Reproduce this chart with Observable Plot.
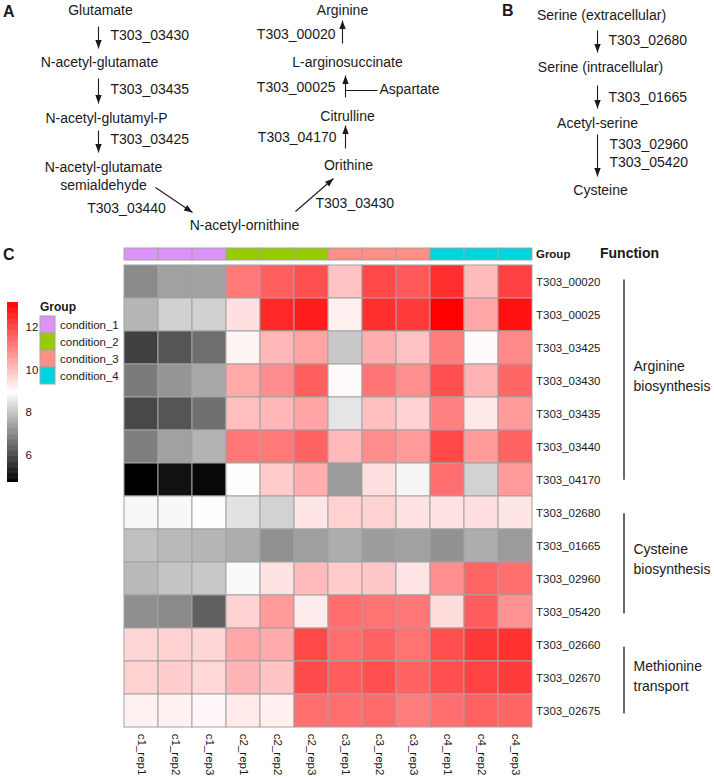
<!DOCTYPE html>
<html>
<head>
<meta charset="utf-8">
<script src="https://cdn.jsdelivr.net/npm/d3@7"></script>
<script src="https://cdn.jsdelivr.net/npm/@observablehq/plot@0.6"></script>
<style>
  body { margin: 0; background: #fff; font-family: "Liberation Sans", Arial, Helvetica, sans-serif; }
  #fig { position: relative; width: 714px; height: 783px; overflow: hidden; background: #fff; }
  #fig svg { overflow: visible; }
</style>
</head>
<body>
<div id="fig"></div>
<script>
// ---------------- DATA ----------------
// Panel A: arginine biosynthesis pathway (metabolites in order, enzymes for each step)
const argMetabolites = ["Glutamate", "N-acetyl-glutamate", "N-acetyl-glutamyl-P",
  "N-acetyl-glutamate\nsemialdehyde", "N-acetyl-ornithine", "Orithine", "Citrulline",
  "L-arginosuccinate", "Arginine"];
const argEnzymes = ["T303_03430", "T303_03435", "T303_03425", "T303_03440",
  "T303_03430", "T303_04170", "T303_00025", "T303_00020"];
const argCosubstrate = "Aspartate"; // joins the T303_00025 step

// Panel B: cysteine biosynthesis pathway
const cysMetabolites = ["Serine (extracellular)", "Serine (intracellular)", "Acetyl-serine", "Cysteine"];
const cysEnzymes = ["T303_02680", "T303_01665", "T303_02960\nT303_05420"];

// Panel C: heatmap
const samples = ["c1_rep1", "c1_rep2", "c1_rep3", "c2_rep1", "c2_rep2", "c2_rep3",
  "c3_rep1", "c3_rep2", "c3_rep3", "c4_rep1", "c4_rep2", "c4_rep3"];
const groups = ["condition_1", "condition_2", "condition_3", "condition_4"];
const sampleGroup = ["condition_1", "condition_1", "condition_1", "condition_2", "condition_2", "condition_2",
  "condition_3", "condition_3", "condition_3", "condition_4", "condition_4", "condition_4"];
const genes = ["T303_00020", "T303_00025", "T303_03425", "T303_03430", "T303_03435", "T303_03440",
  "T303_04170", "T303_02680", "T303_01665", "T303_02960", "T303_05420", "T303_02660",
  "T303_02670", "T303_02675"];
const geneFunction = ["Arginine\nbiosynthesis", "Arginine\nbiosynthesis", "Arginine\nbiosynthesis",
  "Arginine\nbiosynthesis", "Arginine\nbiosynthesis", "Arginine\nbiosynthesis", "Arginine\nbiosynthesis",
  "Cysteine\nbiosynthesis", "Cysteine\nbiosynthesis", "Cysteine\nbiosynthesis", "Cysteine\nbiosynthesis",
  "Methionine\ntransport", "Methionine\ntransport", "Methionine\ntransport"];
// log2 expression, one row per gene, columns follow `samples`
const expr_T303_00020 = [7.0, 7.37, 7.4, 11.16, 11.6, 11.87, 9.93, 11.97, 11.7, 12.4, 10.07, 12.1];
const expr_T303_00025 = [7.72, 8.17, 8.17, 9.47, 12.5, 12.7, 9.2, 12.4, 12.2, 13.18, 10.4, 12.9];
const expr_T303_03425 = [5.77, 6.12, 6.53, 9.13, 10.13, 10.47, 8.03, 10.27, 9.93, 11.07, 9.03, 10.9];
const expr_T303_03430 = [6.73, 7.18, 7.5, 10.37, 10.83, 11.6, 9.03, 11.25, 10.8, 11.87, 10.2, 11.47];
const expr_T303_03435 = [5.9, 6.12, 6.57, 10.0, 10.13, 10.43, 8.5, 10.0, 9.67, 11.03, 9.33, 10.6];
const expr_T303_03440 = [6.8, 7.37, 7.67, 11.2, 11.16, 11.53, 10.1, 10.83, 10.6, 11.97, 10.6, 11.53];
const expr_T303_04170 = [4.7, 4.98, 4.83, 8.95, 9.8, 10.27, 7.27, 9.47, 8.78, 11.33, 8.2, 10.6];
const expr_T303_02680 = [8.8, 8.83, 8.95, 8.45, 8.2, 9.37, 9.7, 9.67, 9.43, 9.43, 9.47, 9.37];
const expr_T303_01665 = [7.9, 7.8, 7.73, 7.57, 7.1, 7.35, 7.57, 7.3, 7.37, 7.13, 7.57, 7.27];
const expr_T303_02960 = [7.77, 7.97, 8.03, 8.85, 9.4, 10.07, 9.8, 9.87, 9.37, 10.8, 11.5, 11.33];
const expr_T303_05420 = [7.07, 7.0, 6.3, 9.67, 10.6, 9.27, 11.37, 11.27, 11.2, 9.53, 11.63, 10.73];
const expr_T303_02660 = [9.63, 9.7, 9.63, 10.4, 10.33, 11.97, 11.33, 11.53, 11.27, 11.87, 12.24, 12.37];
const expr_T303_02670 = [9.7, 9.77, 9.6, 10.17, 9.9, 11.93, 11.63, 11.87, 11.53, 11.87, 12.07, 12.2];
const expr_T303_02675 = [9.17, 9.17, 9.07, 9.3, 9.2, 11.33, 11.33, 11.4, 11.1, 11.33, 11.57, 11.47];
const legendTicks = [6, 8, 10, 12];
const colorDomain = [4.7, 8.94, 13.18];

// ---------------- STYLE / LAYOUT ----------------
const groupColors = ["#DB92F9", "#99CC00", "#FF8E84", "#00D5DD"];
const heatColors = ["#000000", "#ffffff", "#ff0000"];
const FONT = '"Liberation Sans", Arial, Helvetica, sans-serif';
const INK = "#1a1a1a";
const CELL_STROKE = "#a3a3a3";

// pathway diagram layout (pixel placement of the schematic)
const layoutA = {
  nodes: [[100, 9], [99, 61], [106, 117], [103, 175], [244, 224], [348, 164], [347, 115], [347, 61], [342, 9]],
  edges: [[98, 26, 98, 48], [98, 78, 98, 103], [98, 130, 98, 152], [155, 187, 192, 212],
          [295, 211, 333, 178], [345, 148, 345, 125], [345, 97, 345, 75], [342, 43, 342, 20]],
  labels: [[110, 34, "start"], [110, 88, "start"], [110, 138, "start"], [126, 208, "middle"],
           [315, 202, "start"], [336, 137, "end"], [335, 87, "end"], [335, 34, "end"]],
  cosubstrate: {line: [345, 90, 377, 90], text: [379, 89]}
};
const layoutB = {
  nodes: [[601, 14], [600, 66], [597, 122], [600, 189]],
  edges: [[597, 30, 597, 52], [597, 85, 597, 108], [597, 134, 597, 176]],
  labels: [[608, 39, "start"], [608, 96, "start"], [609, 152, "start"]]
};

const fig = document.getElementById("fig");
function place(node, left, top) {
  node.style.position = "absolute";
  node.style.left = left + "px";
  node.style.top = top + "px";
  fig.appendChild(node);
}
function label(text, x, y, size, weight) {
  const d = document.createElement("div");
  d.textContent = text;
  d.style.cssText = `position:absolute;white-space:nowrap;font-family:${FONT};font-size:${size}px;` +
    `line-height:${size}px;font-weight:${weight};color:${INK};left:${x}px;top:${y - size / 2}px;`;
  fig.appendChild(d);
}
const baseStyle = {fontFamily: FONT, background: "transparent", color: INK, overflow: "visible"};

// ---------------- PANELS A & B ----------------
const nodes = [
  ...argMetabolites.map((name, i) => ({name, x: layoutA.nodes[i][0], y: layoutA.nodes[i][1]})),
  ...cysMetabolites.map((name, i) => ({name, x: layoutB.nodes[i][0], y: layoutB.nodes[i][1]}))
];
const edges = [
  ...argEnzymes.map((enz, i) => {
    const [x1, y1, x2, y2] = layoutA.edges[i];
    const [lx, ly, anchor] = layoutA.labels[i];
    return {enz, x1, y1, x2, y2, lx, ly, anchor};
  }),
  ...cysEnzymes.map((enz, i) => {
    const [x1, y1, x2, y2] = layoutB.edges[i];
    const [lx, ly, anchor] = layoutB.labels[i];
    return {enz, x1, y1, x2, y2, lx, ly, anchor};
  })
];
const cos = [{name: argCosubstrate, x1: layoutA.cosubstrate.line[0], y1: layoutA.cosubstrate.line[1],
  x2: layoutA.cosubstrate.line[2], y2: layoutA.cosubstrate.line[3],
  tx: layoutA.cosubstrate.text[0], ty: layoutA.cosubstrate.text[1]}];

const arrowHead = {
  draw(context) {
    context.moveTo(0, 0);
    context.lineTo(3.2, 8.5);
    context.lineTo(-3.2, 8.5);
    context.closePath();
  }
};
const angle = d => Math.atan2(d.x2 - d.x1, -(d.y2 - d.y1)) * 180 / Math.PI;

const pathwayPlot = Plot.plot({
  width: 714, height: 240, margin: 0,
  x: {domain: [0, 714], range: [0, 714], axis: null},
  y: {domain: [0, 240], range: [0, 240], axis: null},
  style: {...baseStyle, fontSize: "14px"},
  marks: [
    Plot.link(edges, {x1: "x1", y1: "y1", x2: "x2", y2: "y2", stroke: INK, strokeWidth: 1.1}),
    Plot.dot(edges, {x: "x2", y: "y2", symbol: arrowHead, rotate: angle, fill: INK, stroke: "none"}),
    Plot.link(cos, {x1: "x1", y1: "y1", x2: "x2", y2: "y2", stroke: INK, strokeWidth: 1.1}),
    Plot.text(cos, {x: "tx", y: "ty", text: "name", textAnchor: "start", fontSize: 14, fill: INK}),
    Plot.text(nodes, {x: "x", y: "y", text: "name", textAnchor: "middle", lineAnchor: "middle",
      lineHeight: 1.29, fontSize: 14, fill: INK}),
    Plot.text(edges.filter(d => d.anchor === "start"), {x: "lx", y: "ly", text: "enz", textAnchor: "start",
      lineAnchor: "middle", lineHeight: 1.29, fontSize: 14, fill: INK}),
    Plot.text(edges.filter(d => d.anchor === "end"), {x: "lx", y: "ly", text: "enz", textAnchor: "end",
      lineAnchor: "middle", fontSize: 14, fill: INK}),
    Plot.text(edges.filter(d => d.anchor === "middle"), {x: "lx", y: "ly", text: "enz", textAnchor: "middle",
      lineAnchor: "middle", fontSize: 14, fill: INK})
  ]
});
place(pathwayPlot, 0, 0);

label("A", 3, 12, 16, "bold");
label("B", 502, 11, 16, "bold");
label("C", 3, 255, 16, "bold");

// ---------------- PANEL C: HEATMAP ----------------
const exprRows = [expr_T303_00020, expr_T303_00025, expr_T303_03425, expr_T303_03430, expr_T303_03435,
  expr_T303_03440, expr_T303_04170, expr_T303_02680, expr_T303_01665, expr_T303_02960, expr_T303_05420,
  expr_T303_02660, expr_T303_02670, expr_T303_02675];
const cells = genes.flatMap((gene, i) => samples.map((sample, j) => ({gene, sample, value: exprRows[i][j]})));

const HM_LEFT = 123.5, HM_RIGHT = 531.5, HM_TOP = 262.7, ROW_H = 467.6 / genes.length;
const hmMarginTop = 0.7, hmTopPx = HM_TOP - hmMarginTop;
const rowsH = ROW_H * genes.length;
const colorScale = {type: "linear", domain: colorDomain, range: heatColors, interpolate: "rgb"};

// annotation bar
const annot = samples.map((s, i) => ({sample: s, group: sampleGroup[i], row: "Group"}));
const annotPlot = Plot.plot({
  width: 714, height: 12.8, marginLeft: HM_LEFT, marginRight: 714 - HM_RIGHT, marginTop: 0.4, marginBottom: 0,
  x: {type: "band", domain: samples, padding: 0, axis: null},
  y: {type: "band", domain: ["Group"], padding: 0, axis: null},
  color: {type: "ordinal", domain: groups, range: groupColors},
  style: {...baseStyle, fontSize: "11.5px"},
  marks: [
    Plot.cell(annot, {x: "sample", y: "row", fill: "group", stroke: CELL_STROKE, strokeWidth: 1}),
    Plot.text(["Group"], {text: d => d, frameAnchor: "right", textAnchor: "start", dx: 4,
      fontWeight: "bold", fontSize: 11.5, fill: INK})
  ]
});
place(annotPlot, 0, 247);

const heatPlot = Plot.plot({
  width: 714, height: hmMarginTop + rowsH + 50,
  marginLeft: HM_LEFT, marginRight: 714 - HM_RIGHT, marginTop: hmMarginTop, marginBottom: 50,
  x: {type: "band", domain: samples, padding: 0, axis: "bottom", tickRotate: 90, tickSize: 0,
      tickPadding: 3, label: null},
  y: {type: "band", domain: genes, padding: 0, axis: "right", tickSize: 0, tickPadding: 4, label: null},
  color: colorScale,
  style: {...baseStyle, fontSize: "11.5px"},
  marks: [
    Plot.cell(cells, {x: "sample", y: "gene", fill: "value", stroke: CELL_STROKE, strokeWidth: 1})
  ]
});
place(heatPlot, 0, hmTopPx);

// function brackets
const functionNames = Array.from(new Set(geneFunction));
const spans = functionNames.map(name => {
  const idx = geneFunction.map((f, i) => f === name ? i : -1).filter(i => i >= 0);
  const i0 = d3.min(idx), i1 = d3.max(idx);
  return {name, y1: i0 + 0.5, y2: i1 + 0.5, ym: (i0 + i1 + 1) / 2};
});
const funcPlot = Plot.plot({
  width: 114, height: hmMarginTop + rowsH, marginLeft: 23.5, marginRight: 0, marginTop: 0, marginBottom: 0,
  x: {domain: [0, 1], axis: null},
  y: {domain: [0, genes.length], range: [hmMarginTop, hmMarginTop + rowsH], axis: null},
  style: {...baseStyle, fontSize: "14px"},
  marks: [
    Plot.ruleX(spans, {x: 0, y1: "y1", y2: "y2", stroke: INK, strokeWidth: 1.3}),
    Plot.text(spans, {x: 0, y: "ym", text: "name", dx: 9.5, dy: -6, textAnchor: "start",
      lineAnchor: "middle", lineHeight: 1.43, fontSize: 14, fill: INK})
  ]
});
place(funcPlot, 600, hmTopPx);
label("Function", 600, 253, 14, "bold");

// colour legend
const rampStep = 0.04;
const rampStops = d3.range(colorDomain[0], colorDomain[2], rampStep);
const rampPlot = Plot.plot({
  width: 41, height: 180, marginLeft: 0, marginRight: 30, marginTop: 0, marginBottom: 0,
  x: {domain: [0, 1], axis: null},
  y: {domain: [colorDomain[0], colorDomain[2]], axis: "right", ticks: legendTicks, tickSize: 0,
      tickPadding: 7, label: null, tickFormat: d => d},
  color: colorScale,
  style: {...baseStyle, fontSize: "11.5px"},
  marks: [
    Plot.rect(rampStops, {x1: 0, x2: 1, y1: d => d, y2: d => Math.min(d + rampStep * 1.6, colorDomain[2]),
      fill: d => d + rampStep / 2})
  ]
});
place(rampPlot, 7, 302.3);

// group legend
const legendPlot = Plot.plot({
  width: 140, height: 69.3, marginLeft: 0, marginRight: 124.5, marginTop: 0, marginBottom: 0,
  x: {type: "band", domain: ["swatch"], padding: 0, axis: null},
  y: {type: "band", domain: groups, padding: 0, axis: "right", tickSize: 0, tickPadding: 4, label: null},
  color: {type: "ordinal", domain: groups, range: groupColors},
  style: {...baseStyle, fontSize: "11.5px"},
  marks: [
    Plot.cell(groups, {x: () => "swatch", y: d => d, fill: d => d, stroke: CELL_STROKE, strokeWidth: 1})
  ]
});
place(legendPlot, 40, 315);
label("Group", 40, 307, 12, "bold");
</script>
</body>
</html>
